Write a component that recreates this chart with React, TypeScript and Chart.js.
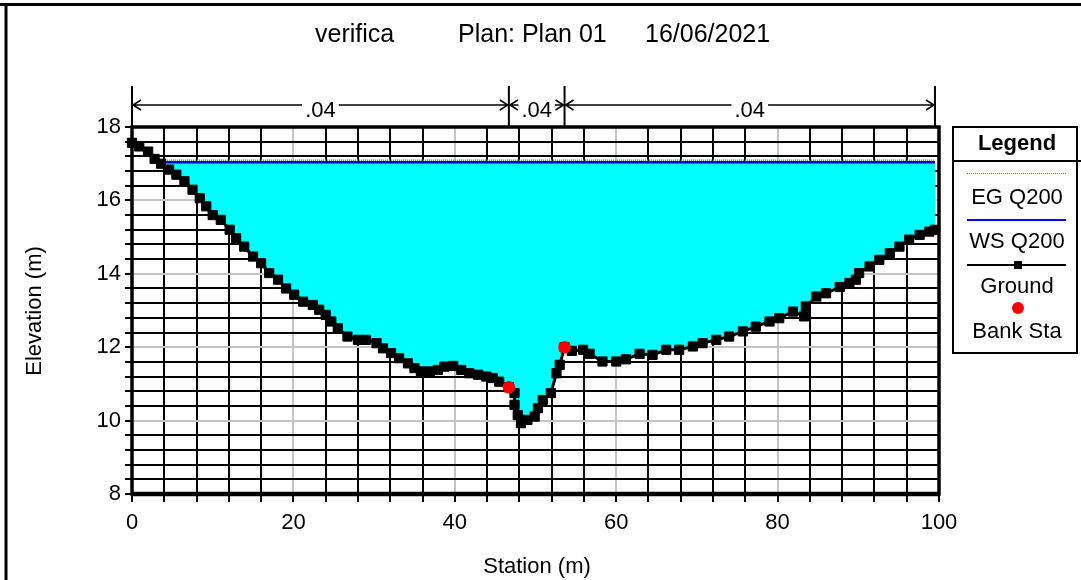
import { useEffect, useRef } from 'react';
import { Chart, registerables } from 'chart.js';

Chart.register(...registerables);

// Cross-section ground profile (station m, elevation m)
const groundStation = [
  0, 0.9, 2.0, 2.8, 3.6, 4.6, 5.5, 6.5, 7.5, 8.4, 9.2, 10.0, 11.0, 12.1, 12.9, 13.9,
  15.0, 16.0, 17.0, 18.1, 19.1, 20.1, 21.2, 22.4, 23.2, 24.0, 24.7, 25.5, 26.7, 28.0,
  29.0, 30.3, 31.1, 32.1, 33.1, 34.2, 35.0, 35.8, 36.9, 37.9, 38.7, 39.8, 40.8, 41.8,
  42.9, 43.9, 44.7, 45.5, 46.7, 47.4, 47.4, 47.8, 48.2, 49.0, 49.9, 50.3, 50.9, 51.9,
  52.6, 53.0, 53.6, 54.5, 55.9, 56.7, 58.3, 60.0, 61.2, 62.9, 64.5, 66.2, 67.8, 69.5,
  70.7, 72.4, 74.0, 75.7, 77.3, 79.0, 80.2, 81.9, 83.3, 83.5, 84.8, 86.0, 87.7, 88.9,
  89.7, 90.1, 91.4, 92.6, 93.9, 95.1, 96.3, 97.6, 98.8, 99.5,
];
const groundElevation = [
  17.57, 17.47, 17.33, 17.13, 17.0, 16.84, 16.7, 16.52, 16.29, 16.06, 15.84, 15.6, 15.47, 15.2, 14.97, 14.74,
  14.47, 14.29, 14.02, 13.84, 13.6, 13.43, 13.24, 13.15, 13.02, 12.88, 12.7, 12.52, 12.29, 12.2,
  12.2, 12.11, 11.97, 11.84, 11.7, 11.56, 11.43, 11.34, 11.34, 11.38, 11.47, 11.49, 11.38, 11.29,
  11.25, 11.2, 11.16, 11.06, 10.91, 10.75, 10.43, 10.15, 9.93, 10.02, 10.11, 10.34, 10.56, 10.75,
  11.29, 11.52, 12.0, 11.9, 11.93, 11.82, 11.61, 11.61, 11.67, 11.82, 11.79, 11.93, 11.93, 12.02,
  12.11, 12.2, 12.29, 12.43, 12.56, 12.7, 12.79, 12.97, 12.84, 13.11, 13.38, 13.47, 13.64, 13.75,
  13.84, 14.02, 14.2, 14.38, 14.56, 14.74, 14.93, 15.06, 15.15, 15.2,
];
const bankStation = [46.7, 53.6];
const bankElevation = [10.91, 12.0];
const wsQ200 = 17.04;
const egQ200 = 17.09;
const manningN = ['.04', '.04', '.04'];
const xTickStep = 4;
const xLabelStep = 20;
const yTickStep = 0.4;
const yLabelStep = 2;
const titleParts = ['verifica', 'Plan: Plan 01', '16/06/2021'];
const legendLabels = ['EG Q200', 'WS Q200', 'Ground', 'Bank Sta'];

const FONT = '"Liberation Sans", Arial, sans-serif';

function isMultiple(v: number, step: number) {
  const r = v / step;
  return Math.abs(r - Math.round(r)) < 1e-6;
}

// Left-bank station where the water surface meets the ground
function waterStart(ws: number): number {
  for (let i = 0; i < groundStation.length - 1; i++) {
    const a = groundElevation[i];
    const b = groundElevation[i + 1];
    if (a >= ws && b < ws) {
      return groundStation[i] + ((a - ws) / (a - b)) * (groundStation[i + 1] - groundStation[i]);
    }
  }
  return groundStation[0];
}

const decorations = {
  id: 'decorations',
  afterDraw(chart: any) {
    const { ctx, chartArea: a, scales } = chart;
    const xs = scales.x;
    ctx.save();
    ctx.strokeStyle = '#000';
    ctx.fillStyle = '#000';

    // page frame
    ctx.lineWidth = 3;
    ctx.beginPath();
    ctx.moveTo(0, 4.5);
    ctx.lineTo(1081, 4.5);
    ctx.moveTo(6, 4.5);
    ctx.lineTo(6, 580);
    ctx.stroke();

    // plot frame
    ctx.lineWidth = 3.5;
    ctx.strokeRect(a.left, a.top, a.right - a.left, a.bottom - a.top);
    ctx.lineWidth = 4.5;
    ctx.beginPath();
    ctx.moveTo(a.left, a.bottom);
    ctx.lineTo(a.right, a.bottom);
    ctx.stroke();

    // title
    ctx.font = `25px ${FONT}`;
    ctx.textBaseline = 'middle';
    ctx.textAlign = 'left';
    const titleX = [315, 458, 645];
    titleParts.forEach((t, i) => ctx.fillText(t, titleX[i], 35));

    // Manning's n zones
    const breaks = [groundStation[0], ...bankStation, groundStation[groundStation.length - 1]];
    const bx = breaks.map((s) => xs.getPixelForValue(s));
    const lineY = 105;
    ctx.lineWidth = 2;
    ctx.beginPath();
    bx.forEach((px) => {
      ctx.moveTo(px, 86);
      ctx.lineTo(px, a.top);
    });
    ctx.stroke();
    ctx.font = `22px ${FONT}`;
    ctx.textAlign = 'center';
    ctx.lineWidth = 1.5;
    manningN.forEach((n, i) => {
      const x1 = bx[i];
      const x2 = bx[i + 1];
      const cx = (x1 + x2) / 2;
      const tw = ctx.measureText(n).width;
      ctx.fillText(n, cx, 111);
      ctx.beginPath();
      const l1 = cx - tw / 2 - 3;
      const r1 = cx + tw / 2 + 3;
      if (l1 > x1) {
        ctx.moveTo(x1, lineY);
        ctx.lineTo(l1, lineY);
      }
      if (r1 < x2) {
        ctx.moveTo(r1, lineY);
        ctx.lineTo(x2, lineY);
      }
      ctx.moveTo(x1 + 9, lineY - 5);
      ctx.lineTo(x1 + 1, lineY);
      ctx.lineTo(x1 + 9, lineY + 5);
      ctx.moveTo(x2 - 9, lineY - 5);
      ctx.lineTo(x2 - 1, lineY);
      ctx.lineTo(x2 - 9, lineY + 5);
      ctx.stroke();
    });

    // legend box
    const lx = 953;
    const lw = 124;
    const lcx = 1017;
    ctx.lineWidth = 2;
    ctx.strokeRect(lx, 127, lw, 226);
    ctx.beginPath();
    ctx.moveTo(lx, 161);
    ctx.lineTo(1081, 161);
    ctx.stroke();
    ctx.font = `bold 22px ${FONT}`;
    ctx.fillText('Legend', lcx, 144);

    // EG sample
    ctx.strokeStyle = '#22b822';
    ctx.lineWidth = 1;
    ctx.setLineDash([1, 1]);
    ctx.beginPath();
    ctx.moveTo(967, 173.5);
    ctx.lineTo(1066, 173.5);
    ctx.stroke();
    ctx.setLineDash([]);
    // WS sample
    ctx.strokeStyle = '#0000ff';
    ctx.lineWidth = 2;
    ctx.beginPath();
    ctx.moveTo(967, 220);
    ctx.lineTo(1066, 220);
    ctx.stroke();
    // Ground sample
    ctx.strokeStyle = '#000';
    ctx.beginPath();
    ctx.moveTo(967, 265);
    ctx.lineTo(1066, 265);
    ctx.stroke();
    ctx.fillRect(1014, 261, 8, 8);
    // Bank sample
    ctx.fillStyle = '#ff0000';
    ctx.beginPath();
    ctx.arc(1018, 308, 6, 0, Math.PI * 2);
    ctx.fill();

    ctx.fillStyle = '#000';
    ctx.font = `22px ${FONT}`;
    const labelY = [198, 242, 287, 332];
    legendLabels.forEach((t, i) => ctx.fillText(t, lcx, labelY[i]));

    // axis titles
    ctx.fillText('Station (m)', 537, 567);
    ctx.translate(35, 311);
    ctx.rotate(-Math.PI / 2);
    ctx.fillText('Elevation (m)', 0, 0);

    ctx.restore();
  },
};

export default function App() {
  const ref = useRef<HTMLCanvasElement>(null);

  useEffect(() => {
    if (!ref.current) return;
    const ground = groundStation.map((s, i) => ({ x: s, y: groundElevation[i] }));
    const banks = bankStation.map((s, i) => ({ x: s, y: bankElevation[i] }));
    const x0 = waterStart(wsQ200);
    const xEnd = groundStation[groundStation.length - 1];
    const water = [
      { x: x0, y: wsQ200 },
      ...ground.filter((p) => p.x > x0),
      { x: xEnd, y: wsQ200 },
    ];
    const ws = [
      { x: x0, y: wsQ200 },
      { x: xEnd, y: wsQ200 },
    ];
    const eg = [
      { x: x0, y: egQ200 },
      { x: xEnd, y: egQ200 },
    ];

    const gridColor = (step: number) => (c: any) =>
      c.tick && isMultiple(c.tick.value, step) ? '#c4c4c4' : '#000';

    const chart = new Chart(ref.current, {
      type: 'line',
      data: {
        datasets: [
          {
            label: 'Bank Sta',
            data: banks,
            showLine: false,
            pointStyle: 'circle',
            pointRadius: 6.3,
            pointBackgroundColor: '#ff0000',
            pointBorderColor: '#ff0000',
            pointBorderWidth: 0,
            order: 0,
            clip: false,
          },
          {
            label: 'Ground',
            data: ground,
            borderColor: '#000',
            borderWidth: 3,
            pointStyle: 'rect',
            pointRadius: 6.5,
            pointBackgroundColor: '#000',
            pointBorderColor: '#000',
            pointBorderWidth: 1,
            tension: 0,
            order: 1,
            clip: false,
          },
          {
            label: 'WS Q200',
            data: ws,
            borderColor: '#0000ff',
            borderWidth: 2.5,
            pointRadius: 0,
            order: 2,
          },
          {
            label: 'EG Q200',
            data: eg,
            borderColor: '#4caf4c',
            borderWidth: 2,
            borderDash: [1, 1],
            pointRadius: 0,
            order: 3,
          },
          {
            label: 'water',
            data: water,
            borderWidth: 0,
            borderColor: 'rgba(0,0,0,0)',
            backgroundColor: '#00ffff',
            fill: 'shape',
            pointRadius: 0,
            order: 4,
          },
        ],
      },
      options: {
        animation: false,
        responsive: true,
        maintainAspectRatio: false,
        parsing: false,
        layout: { padding: { left: 0, top: 127, right: 142, bottom: 0 } },
        plugins: {
          legend: { display: false },
          title: { display: false },
          tooltip: { enabled: false },
        },
        scales: {
          x: {
            type: 'linear',
            min: 0,
            max: 100,
            afterFit: (s: any) => {
              s.height = 86;
            },
            ticks: {
              stepSize: xTickStep,
              autoSkip: false,
              maxRotation: 0,
              padding: 8,
              color: '#000',
              font: { family: FONT, size: 22 },
              callback: (v: any) => (isMultiple(Number(v), xLabelStep) ? String(v) : ''),
            },
            grid: {
              color: gridColor(xLabelStep),
              lineWidth: 2,
              tickColor: '#000',
              tickLength: 8,
              tickWidth: 2,
            },
            border: { display: false },
          },
          y: {
            type: 'linear',
            min: 8,
            max: 18,
            afterFit: (s: any) => {
              s.width = 132;
            },
            ticks: {
              stepSize: yTickStep,
              autoSkip: false,
              padding: 4,
              color: '#000',
              font: { family: FONT, size: 22 },
              callback: (v: any) => (isMultiple(Number(v), yLabelStep) ? String(Math.round(Number(v))) : ''),
            },
            grid: {
              color: gridColor(yLabelStep),
              lineWidth: 2,
              tickColor: '#000',
              tickLength: 7,
              tickWidth: 2,
            },
            border: { display: false },
          },
        },
      },
      plugins: [decorations],
    } as any);

    return () => chart.destroy();
  }, []);

  return (
    <div style={{ position: 'absolute', left: 0, top: 0, width: 1081, height: 580, background: '#fff' }}>
      <canvas ref={ref} />
    </div>
  );
}
